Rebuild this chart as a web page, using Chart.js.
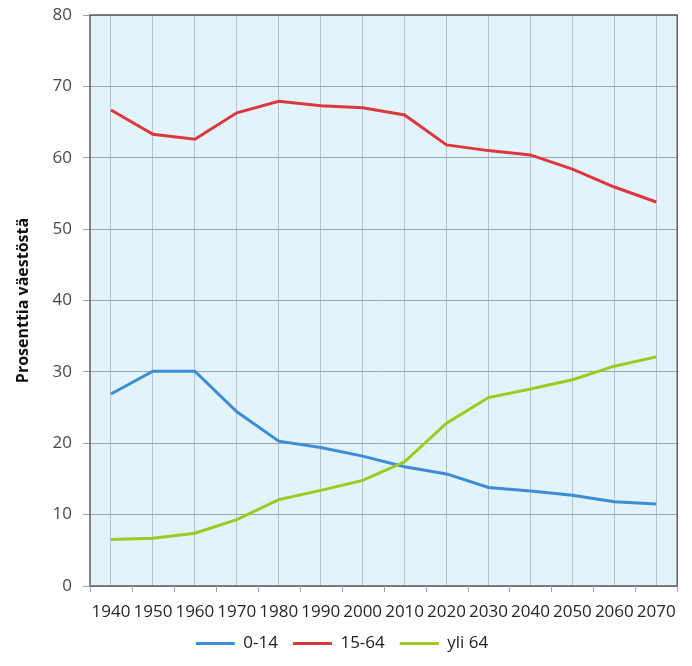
<!DOCTYPE html>
<html>
<head>
<meta charset="utf-8">
<script src="https://cdn.jsdelivr.net/npm/chart.js@4.4.1/dist/chart.umd.min.js"></script>
<style>
  html, body { margin: 0; padding: 0; background: #fff; }
  #wrap { width: 692px; height: 666px; }
</style>
</head>
<body>
<div id="wrap"><canvas id="ageChart"></canvas></div>
<script>
// ---- Data ----
const years = ["1940", "1950", "1960", "1970", "1980", "1990", "2000",
               "2010", "2020", "2030", "2040", "2050", "2060", "2070"];
const age0to14 = [26.9, 30.1, 30.1, 24.4, 20.3, 19.4, 18.2, 16.7, 15.7, 13.8, 13.3, 12.7, 11.8, 11.5];
const age15to64 = [66.7, 63.3, 62.6, 66.3, 67.9, 67.3, 67.0, 66.0, 61.8, 61.0, 60.4, 58.4, 55.9, 53.8];
const ageOver64 = [6.5, 6.7, 7.4, 9.3, 12.1, 13.4, 14.8, 17.4, 22.8, 26.4, 27.6, 28.9, 30.8, 32.1];
const yMin = 0, yMax = 80, yStep = 10;

Chart.defaults.font.family = "'Open Sans', sans-serif";
Chart.defaults.font.size = 17;

// ---- Plot background, frame and category tick marks ----
const plotFrame = {
  id: "plotFrame",
  beforeDraw(chart) {
    const { ctx, chartArea: a } = chart;
    ctx.save();
    ctx.fillStyle = "#e2f3fb";
    ctx.fillRect(a.left, a.top, a.right - a.left, a.bottom - a.top);
    ctx.restore();
  },
  afterDatasetsDraw(chart) {
    const { ctx, chartArea: a, scales } = chart;
    const x = scales.x;
    ctx.save();
    ctx.strokeStyle = "#5a5f63";
    ctx.lineWidth = 1.5;
    ctx.strokeRect(a.left, a.top, a.right - a.left, a.bottom - a.top);
    // tick marks sit between the categories
    const half = (x.getPixelForValue(1) - x.getPixelForValue(0)) / 2;
    ctx.strokeStyle = "#9aa4aa";
    ctx.lineWidth = 1;
    for (let i = 0; i <= years.length; i++) {
      const px = Math.round(x.getPixelForValue(i) - half) + 0.5;
      ctx.beginPath();
      ctx.moveTo(px, a.bottom);
      ctx.lineTo(px, a.bottom + 6);
      ctx.stroke();
    }
    ctx.restore();
  },
};

const lineSet = (label, data, color, order) => ({
  label,
  data,
  borderColor: color,
  backgroundColor: color,
  borderWidth: 3,
  pointRadius: 0,
  pointHoverRadius: 0,
  tension: 0,
  fill: false,
  order,
});

new Chart(document.getElementById("ageChart"), {
  type: "line",
  data: {
    labels: years,
    datasets: [
      lineSet("0-14", age0to14, "#3d8dd6", 2),
      lineSet("15-64", age15to64, "#dc383c", 1),
      lineSet("yli 64", ageOver64, "#9bcb1f", 0),
    ],
  },
  options: {
    responsive: true,
    maintainAspectRatio: false,
    animation: false,
    layout: { padding: { left: 0, right: 8, top: 15, bottom: 4 } },
    plugins: {
      tooltip: { enabled: false },
      legend: {
        position: "bottom",
        labels: {
          usePointStyle: true,
          pointStyle: "line",
          pointStyleWidth: 39,
          color: "#222",
          font: { size: 17 },
          padding: 15,
          sort: (a, b) => a.datasetIndex - b.datasetIndex,
        },
      },
    },
    scales: {
      x: {
        offset: true,
        grid: { color: "#b3c3cd", lineWidth: 1, drawTicks: false, offset: false },
        border: { display: false },
        ticks: { color: "#262626", padding: 16, maxRotation: 0, autoSkip: false },
        afterFit: s => { s.height = 34; },
      },
      y: {
        min: yMin,
        max: yMax,
        grid: { color: "#98a6ae", lineWidth: 1, tickLength: 7 },
        border: { display: false },
        ticks: { stepSize: yStep, color: "#4a4a4a", padding: 11 },
        title: {
          display: true,
          text: "Prosenttia väestöstä",
          color: "#111",
          font: { size: 16, weight: "bold" },
          padding: { top: 14, bottom: 6 },
        },
        afterFit: s => { s.width = 90; s.paddingTop = 0; s.paddingBottom = 0; },
      },
    },
  },
  plugins: [plotFrame],
});
</script>
</body>
</html>
